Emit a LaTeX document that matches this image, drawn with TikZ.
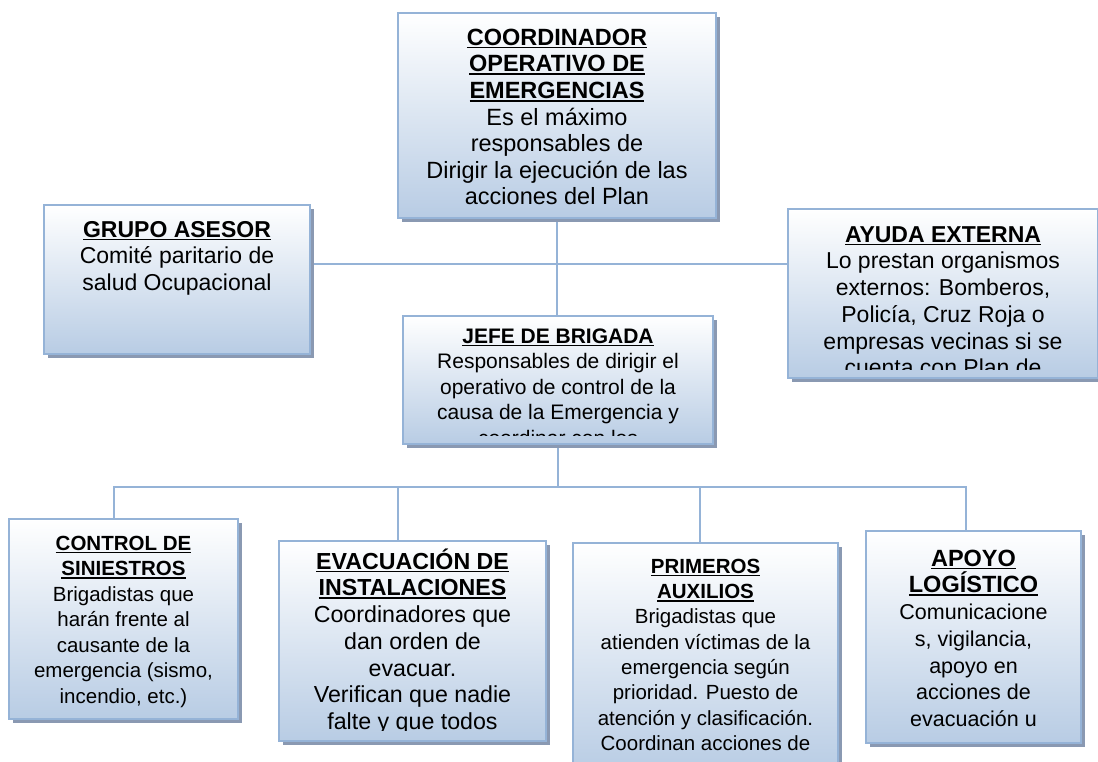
\documentclass[tikz,border=0pt]{standalone}
\usepackage{fontspec}
\setmainfont{Liberation Sans}
\usetikzlibrary{shadows,backgrounds}

\definecolor{boxline}{RGB}{149,179,215}
\definecolor{boxfill}{RGB}{184,204,228}
\definecolor{boxshadow}{RGB}{138,153,178}

% titulo en negrita y subrayado
\newcommand{\undl}[1]{\setbox0\hbox{\bfseries #1}\rlap{\rule[-3.2pt]{\wd0}{1.7pt}}\box0}
% texto recortado dentro de la caja: [margen], caja, tamano, interlinea, primera linea base, texto
\newcommand{\boxtext}[6][9]{%
  \begin{scope}
    \clip ([yshift=#1pt]#2.south west) rectangle (#2.north east);
    \node[anchor=north, align=center, inner sep=0pt, font=\fontsize{#3pt}{#4pt}\selectfont]
      (#2-text) at ([yshift={(#3-#5)*1pt}]#2.north) {\rule{0pt}{#3pt}#6};
  \end{scope}}

\tikzset{
  orgbox/.style={draw=boxline, line width=2pt, top color=white, bottom color=boxfill,
    drop shadow={shadow xshift=4pt, shadow yshift=-4pt, fill=boxshadow, opacity=1},
    anchor=north west, inner sep=0pt},
  link/.style={draw=boxline, line width=2.8pt, line cap=rect}
}

\begin{document}
\begin{tikzpicture}[x=1pt, y=-1pt]
\useasboundingbox (0,0) rectangle (1098,761);

% nivel superior
\node[orgbox, minimum width=318pt, minimum height=205pt] (coord) at (397,12) {};
\boxtext{coord}{23.5}{26.6}{33}{\undl{COORDINADOR}\\ \undl{OPERATIVO DE}\\ \undl{EMERGENCIAS}\\
  Es el máximo\\ responsables de\\ Dirigir la ejecución de las\\ acciones del Plan}
\node[orgbox, minimum width=266pt, minimum height=149pt] (asesor) at (43,204) {};
\boxtext{asesor}{23}{26.7}{33}{\undl{GRUPO ASESOR}\\ Comité paritario de\\ salud Ocupacional}
\node[orgbox, minimum width=310pt, minimum height=169pt] (externa) at (787,208) {};
\boxtext[10]{externa}{23}{26.7}{34}{\undl{AYUDA EXTERNA}\\ Lo prestan organismos\\ externos: Bomberos,\\
  Policía, Cruz Roja o\\ empresas vecinas si se\\ cuenta con Plan de}

% jefe
\node[orgbox, minimum width=310pt, minimum height=128pt] (jefe) at (402,315) {};
\boxtext[10]{jefe}{21}{25.5}{28}{\undl{JEFE DE BRIGADA}\\ Responsables de dirigir el\\
  operativo de control de la\\ causa de la Emergencia y\\ coordinar con los}

% brigadas
\node[orgbox, minimum width=229pt, minimum height=200pt] (control) at (8,518) {};
\boxtext{control}{20.5}{25.5}{32}{\undl{CONTROL DE}\\ \undl{SINIESTROS}\\ Brigadistas que\\
  harán frente al\\ causante de la\\ emergencia (sismo,\\ incendio, etc.)}
\node[orgbox, minimum width=267pt, minimum height=200pt] (evac) at (278,540) {};
\boxtext[12]{evac}{23.2}{26.7}{29}{\undl{EVACUACIÓN DE}\\ \undl{INSTALACIONES}\\ Coordinadores que\\
  dan orden de\\ evacuar.\\ Verifican que nadie\\ falte y que todos}
\node[orgbox, minimum width=265pt, minimum height=230pt] (auxilios) at (572,542) {};
\boxtext{auxilios}{20.5}{25.3}{31}{\undl{PRIMEROS}\\ \undl{AUXILIOS}\\ Brigadistas que\\
  atienden víctimas de la\\ emergencia según\\ prioridad. Puesto de\\ atención y clasificación.\\
  Coordinan acciones de}
\node[orgbox, minimum width=215pt, minimum height=212pt] (apoyo) at (865,530) {};
\boxtext{apoyo}{21.5}{26.7}{36}{{\fontsize{23.5pt}{26.7pt}\selectfont\undl{APOYO}}\\
  {\fontsize{23.5pt}{26.7pt}\selectfont\undl{LOGÍSTICO}}\\ Comunicacione\\ s,  vigilancia,\\
  apoyo en\\ acciones de\\ evacuación u}

% conectores
\begin{scope}[on background layer]
\coordinate (cruce) at (556,264);
\coordinate (bus) at (556,487);
\draw[link] (coord.south) -- (coord.south |- jefe.north);
\draw[link] (asesor.east |- cruce) -- (externa.west |- cruce);
\draw[link] (jefe.south) -- (jefe.south |- bus);
\foreach \n/\dx in {control/-9.5, evac/-14.5, auxilios/-5.5, apoyo/-7.5}{
  \coordinate (\n-top) at ([xshift=\dx pt]\n.north);
  \draw[link] (\n-top |- bus) -- (\n-top);
}
\draw[link] (control-top |- bus) -- (apoyo-top |- bus);
\end{scope}
\end{tikzpicture}
\end{document}
